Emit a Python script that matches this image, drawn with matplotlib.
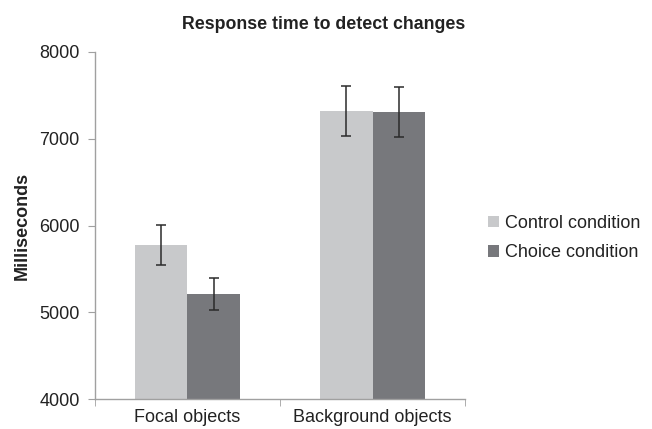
import numpy as np
import matplotlib.pyplot as plt
from matplotlib.patches import Patch

plt.rcParams['font.family'] = ['Liberation Sans', 'DejaVu Sans']

categories = ['Focal objects', 'Background objects']
series = ['Control condition', 'Choice condition']
control = [5780, 7320]
choice = [5210, 7310]
control_err = [230, 290]
choice_err = [185, 290]

colors = ['#c8c9cb', '#77787c']

fig = plt.figure(figsize=(6.52, 4.29), dpi=100)
ax = fig.add_axes([0.1457, 0.0699, 0.5675, 0.8089])

x = np.arange(len(categories))
w = 0.286
err_kw = dict(ecolor='#2b2b2b', elinewidth=1.1, capsize=3.5, capthick=1.1)
ax.bar(x - w / 2, control, w, color=colors[0], yerr=control_err, error_kw=err_kw)
ax.bar(x + w / 2, choice, w, color=colors[1], yerr=choice_err, error_kw=err_kw)

ax.set_xlim(-0.5, len(categories) - 0.5)
ax.set_ylim(4000, 8000)
ax.set_yticks([4000, 5000, 6000, 7000, 8000])
ax.set_xticks(x)
ax.set_xticklabels(categories, fontsize=13, color='#222222')
ax.set_xticks(np.arange(len(categories) + 1) - 0.5, minor=True)
ax.tick_params(axis='x', which='major', length=0, pad=7)
ax.tick_params(axis='x', which='minor', length=5, color='#a0a0a0', direction='out')
ax.tick_params(axis='y', length=5, color='#a0a0a0', direction='out', labelsize=13,
               labelcolor='#222222', pad=6)

for s in ['top', 'right']:
    ax.spines[s].set_visible(False)
for s in ['left', 'bottom']:
    ax.spines[s].set_color('#a0a0a0')
    ax.spines[s].set_linewidth(1)

ax.set_ylabel('Milliseconds', fontsize=13, fontweight='bold', color='#222222', labelpad=6)
fig.text(0.497, 0.944, 'Response time to detect changes', ha='center', va='center',
         fontsize=12.8, fontweight='bold', color='#222222')

handles = [Patch(facecolor=c, edgecolor='none') for c in colors]
fig.legend(handles, series, loc='center left', bbox_to_anchor=(0.724, 0.445),
           frameon=False, fontsize=13, handlelength=0.6, handleheight=0.6,
           handletextpad=0.35, labelspacing=0.7, labelcolor='#222222')

fig.savefig('out.png', dpi=100)
